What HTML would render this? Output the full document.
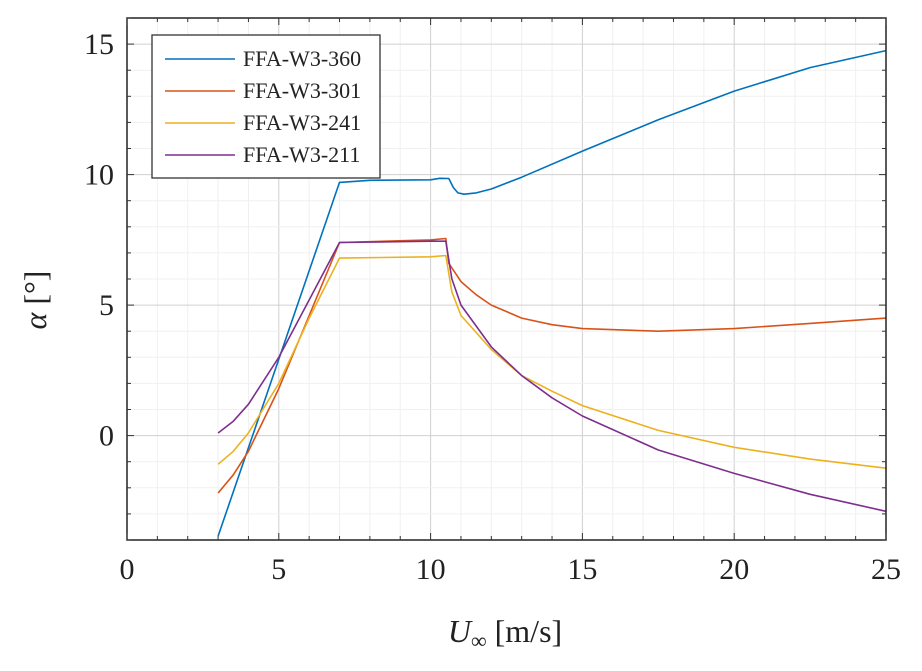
<!DOCTYPE html>
<html><head><meta charset="utf-8"><style>
body{margin:0;background:#fff}
svg text{font-family:"Liberation Serif",serif;fill:#222}
</style></head><body>
<svg id="chart" width="922" height="666" xmlns="http://www.w3.org/2000/svg">
<g id="grid"></g>
<g id="series"></g>
<rect x="127" y="18" width="759" height="522" fill="none" stroke="#222" stroke-width="1.5"/>
<g id="ticks"></g>
<text x="505" y="642" font-size="32" text-anchor="middle" fill="#444"><tspan font-style="italic">U</tspan><tspan font-size="22" dy="6">∞</tspan><tspan dy="-6"> [m/s]</tspan></text>
<text transform="translate(46,300) rotate(-90)" font-size="32" text-anchor="middle"><tspan font-style="italic">α</tspan> [°]</text>
<g id="legend">
<rect x="152" y="35" width="228" height="143" fill="#fff" stroke="#333" stroke-width="1.3"/>
</g>
</svg>
<script>
const names=["FFA-W3-360","FFA-W3-301","FFA-W3-241","FFA-W3-211"];
const colors=["#0072bd","#d95319","#edb120","#7e2f8e"];
const xs360=[3,7,8,10,10.3,10.6,10.75,10.9,11.1,11.5,12,13,15,17.5,20,22.5,25];
const ys360=[-3.85,9.7,9.78,9.8,9.86,9.85,9.5,9.3,9.25,9.3,9.45,9.9,10.9,12.1,13.2,14.1,14.75];
const xs301=[3,3.5,4,5,6,7,10,10.5,10.6,11,11.5,12,13,14,15,17.5,20,22.5,25];
const ys301=[-2.2,-1.5,-0.6,1.8,4.6,7.4,7.5,7.55,6.6,5.9,5.4,5.0,4.5,4.25,4.1,4.0,4.1,4.3,4.5];
const xs241=[3,3.5,4,5,6,7,10,10.5,10.7,11,12,13,14,15,17.5,20,22.5,25];
const ys241=[-1.1,-0.6,0.1,2.0,4.5,6.8,6.85,6.9,5.5,4.6,3.3,2.3,1.7,1.15,0.2,-0.45,-0.9,-1.25];
const xs211=[3,3.5,4,5,6,7,10,10.5,10.7,11,12,13,14,15,17.5,20,22.5,25];
const ys211=[0.1,0.55,1.2,3.0,5.2,7.4,7.45,7.45,6.0,5.0,3.4,2.3,1.45,0.75,-0.55,-1.45,-2.25,-2.9];
const xTicks=[0,5,10,15,20,25];
const yTicks=[0,5,10,15];
const X0=127,X1=886,Y0=540,Y1=18,xmin=0,xmax=25,ymin=-4,ymax=16;
const sx=v=>X0+(v-xmin)/(xmax-xmin)*(X1-X0);
const sy=v=>Y0-(v-ymin)/(ymax-ymin)*(Y0-Y1);
const NS="http://www.w3.org/2000/svg";
function mk(t,a,p){const e=document.createElementNS(NS,t);for(const k in a)e.setAttribute(k,a[k]);p.appendChild(e);return e;}
const grid=document.getElementById('grid'),ticks=document.getElementById('ticks');
for(let v=xmin;v<=xmax;v++){const major=v%5===0;
 const l=mk('line',{x1:sx(v),x2:sx(v),y1:Y1,y2:Y0,stroke:major?'#d0d0d0':'#f0f0f0','stroke-width':1},grid);
 
 const len=major?7:4;
 const t1=mk('line',{x1:sx(v),x2:sx(v),y1:Y0,y2:Y0-len,stroke:'#333'},ticks);
 
 const t2=mk('line',{x1:sx(v),x2:sx(v),y1:Y1,y2:Y1+len,stroke:'#333'},ticks);
 }
for(let v=ymin;v<=ymax;v++){const major=v%5===0;
 const l=mk('line',{x1:X0,x2:X1,y1:sy(v),y2:sy(v),stroke:major?'#d0d0d0':'#f0f0f0','stroke-width':1},grid);
 
 const len=major?7:4;
 const t1=mk('line',{x1:X0,x2:X0+len,y1:sy(v),y2:sy(v),stroke:'#333'},ticks);
 
 const t2=mk('line',{x1:X1,x2:X1-len,y1:sy(v),y2:sy(v),stroke:'#333'},ticks);
 }
xTicks.forEach(v=>{const t=mk('text',{x:sx(v),y:579,'font-size':30,'text-anchor':'middle'},ticks);t.textContent=v;
 });
yTicks.forEach(v=>{const t=mk('text',{x:114,y:sy(v)+10,'font-size':30,'text-anchor':'end'},ticks);t.textContent=v;
 });
const sets=[[xs360,ys360],[xs301,ys301],[xs241,ys241],[xs211,ys211]];
const sg=document.getElementById('series'),lg=document.getElementById('legend');
sets.forEach((s,i)=>{const pts=s[0].map((x,j)=>sx(x).toFixed(1)+','+sy(s[1][j]).toFixed(1)).join(' ');
 const p=mk('polyline',{points:pts,fill:'none',stroke:colors[i],'stroke-width':1.6,'stroke-linejoin':'round'},sg);
 
 const y=59+i*32;
 const ll=mk('line',{x1:165,x2:235,y1:y,y2:y,stroke:colors[i],'stroke-width':1.6},lg);
 
 const tt=mk('text',{x:243,y:y+7,'font-size':22},lg);tt.textContent=names[i];
 });
</script>
</body></html>
